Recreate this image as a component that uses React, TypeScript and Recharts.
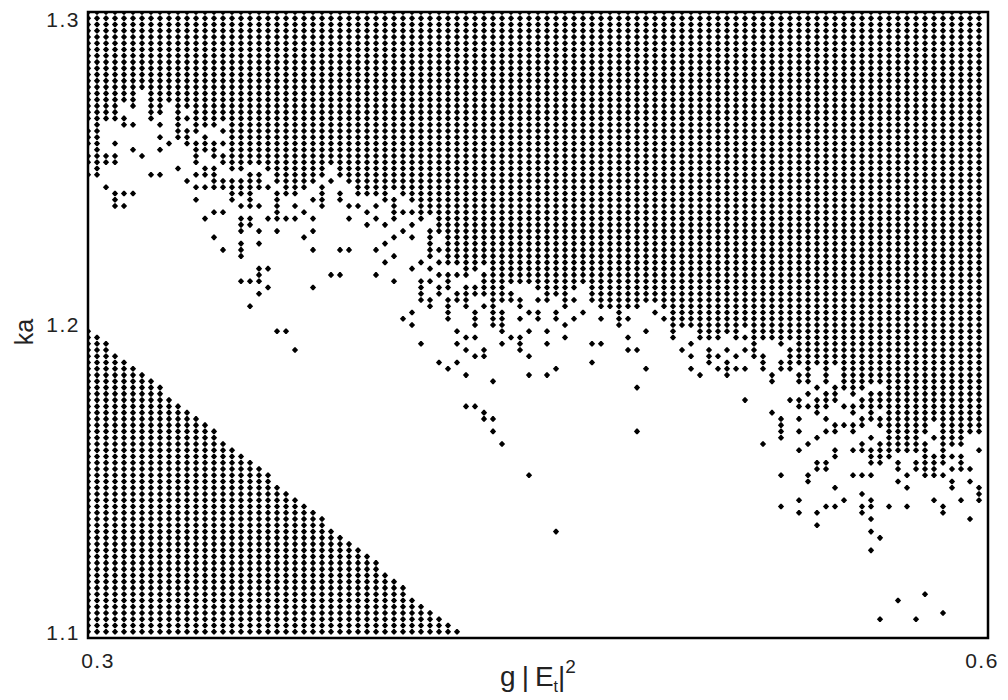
import { ScatterChart, Scatter, XAxis, YAxis, ReferenceArea, Label } from "recharts";

const X_TICKS = [0.3, 0.6];
const Y_TICKS = [1.1, 1.2, 1.3];

// the plotter's lattice: columns step 0.003 in g|E|^2, rows step 0.002 in ka
const gridX0 = 0.3;
const gridDX = 0.003;
const gridY0 = 1.1;
const gridDY = 0.002;
const topRow = 100;

// lowest row of the solid upper block, per column (0..99)
const frontRow = [
  83, 74, 83, 83, 86, 85, 88, 83, 84, 86,
  80, 85, 81, 82, 82, 83, 75, 75, 76, 76,
  75, 73, 71, 71, 72, 73, 74, 76, 74, 73,
  71, 71, 71, 70, 72, 71, 70, 68, 68, 65,
  60, 60, 59, 59, 60, 57, 54, 57, 57, 57,
  56, 54, 55, 53, 56, 57, 54, 53, 53, 50,
  53, 53, 54, 54, 53, 48, 50, 50, 48, 48,
  48, 49, 48, 50, 45, 48, 48, 47, 48, 44,
  41, 44, 41, 44, 40, 39, 40, 41, 41, 29,
  30, 30, 30, 33, 35, 29, 31, 31, 33, 33,
];

// top row of the lower-left wedge, per column (0..41)
const wedgeTop = [
  49, 48, 47, 45, 44, 43, 42, 41, 40, 38,
  37, 36, 35, 34, 33, 31, 30, 29, 28, 27,
  26, 24, 23, 22, 21, 20, 19, 17, 16, 15,
  14, 13, 12, 10, 9, 8, 6, 5, 4, 3,
  2, 1,
];

// isolated dots under the solid block: [column, rows]
const strayRows: [number, number[]][] = [
  [0, [81, 80, 79, 77, 76, 74]],
  [2, [77, 76, 72]],
  [3, [79, 77, 76, 71, 70, 69]],
  [4, [83, 82, 71, 69]],
  [5, [82, 78, 71]],
  [6, [77]],
  [7, [74]],
  [8, [82, 80, 78, 74]],
  [9, [79]],
  [10, [75]],
  [11, [83, 81, 80, 79, 73]],
  [12, [79, 78, 77, 76, 74, 72, 70]],
  [13, [80, 79, 78, 75, 74, 72, 67]],
  [14, [79, 78, 77, 75, 74, 73, 72, 68, 64]],
  [15, [81, 79, 77, 76, 73, 72, 68, 62]],
  [16, [73, 72, 71, 70]],
  [17, [73, 72, 71, 69, 67, 66, 65, 63, 62, 61, 57]],
  [18, [74, 73, 72, 71, 70, 69, 67, 66, 57, 53]],
  [19, [74, 73, 72, 69, 65, 63, 59, 58, 57, 55]],
  [20, [72, 67, 59, 56]],
  [21, [71, 70, 69, 68, 67, 65, 49]],
  [22, [67, 49]],
  [23, [69, 67, 46]],
  [24, [68, 64]],
  [25, [70, 67, 65, 62, 56]],
  [26, [72, 71, 70, 69]],
  [27, [73, 58]],
  [28, [71, 70, 62, 58]],
  [29, [69, 67, 62]],
  [30, [69]],
  [31, [68, 66]],
  [32, [69, 67, 62, 58]],
  [33, [66, 63, 60]],
  [34, [70, 69, 68, 67, 64, 61, 57]],
  [35, [68, 65, 51]],
  [36, [68, 66, 64, 59, 52, 50]],
  [37, [67, 60, 57, 56, 55, 54, 47]],
  [38, [65, 64, 63, 62, 61, 59, 57, 54, 53]],
  [39, [62, 60, 58, 56, 55, 44]],
  [40, [58, 57, 56, 54, 53, 52, 51, 43]],
  [41, [58, 55, 54, 49, 47, 44]],
  [42, [58, 56, 55, 54, 53, 48, 46, 42, 37]],
  [43, [56, 55, 52, 51, 50, 48, 45, 37]],
  [44, [58, 57, 56, 55, 53, 46, 45, 36, 35]],
  [45, [56, 55, 54, 53, 52, 51, 50, 41, 35, 33]],
  [46, [52, 51, 50, 49, 47, 31]],
  [47, [55, 54, 48]],
  [48, [54, 53, 51, 48, 47, 46]],
  [49, [52, 49, 45, 42, 26]],
  [50, [54, 52, 51]],
  [51, [49, 47, 42]],
  [52, [52, 51, 43, 17]],
  [53, [50, 48]],
  [54, [54, 51]],
  [55, [52]],
  [56, [47, 44]],
  [57, [51, 47]],
  [60, [51, 48, 46]],
  [61, [46, 40, 33]],
  [62, [49, 43]],
  [63, [52]],
  [64, [51]],
  [66, [46]],
  [67, [47, 45, 43]],
  [68, [42]],
  [69, [46, 45, 44]],
  [70, [45, 43]],
  [71, [46, 44, 43, 42]],
  [72, [45, 43]],
  [73, [48, 46, 43, 38]],
  [75, [45, 44, 43, 31]],
  [76, [42, 41, 36]],
  [77, [44, 43, 35, 34, 33, 32, 26, 21]],
  [78, [46, 45, 44, 43, 38]],
  [79, [42, 41, 38, 37, 35, 33, 30, 22, 20]],
  [80, [39, 37, 31, 26, 25]],
  [81, [40, 38, 37, 36, 32, 28, 27, 20, 18]],
  [82, [39, 38, 37, 35, 33, 28, 27, 21]],
  [83, [40, 39, 38, 34, 33, 30, 29, 24, 21]],
  [84, [37, 34, 22]],
  [85, [37, 36, 34, 33, 30, 26]],
  [86, [38, 37, 35, 34, 31, 30, 26, 23, 21, 20]],
  [87, [39, 38, 37, 36, 35, 32, 30, 29, 28, 26, 22, 21, 19, 17, 14]],
  [88, [39, 38, 37, 35, 34, 31, 30, 29, 28, 16, 3]],
  [89, [21]],
  [90, [28, 27, 25, 6]],
  [91, [26, 24, 21]],
  [92, [28, 27, 3]],
  [93, [31, 30, 29, 28, 27, 26, 7]],
  [94, [32, 29, 28, 27, 26, 22]],
  [95, [28, 26, 21, 20, 4]],
  [96, [29, 27, 25, 24]],
  [97, [29, 28, 27, 22]],
  [98, [27, 25, 19]],
  [99, [30, 24, 23, 22]],
];

const colX = (i: number) => +(gridX0 + gridDX * i).toFixed(3);
const rowY = (j: number) => +(gridY0 + gridDY * j).toFixed(3);

const upperPoints = frontRow.flatMap((front, i) => {
  const pts: { x: number; y: number }[] = [];
  for (let j = front; j <= topRow; j++) pts.push({ x: colX(i), y: rowY(j) });
  return pts;
});

const wedgePoints = wedgeTop.flatMap((top, i) => {
  const pts: { x: number; y: number }[] = [];
  for (let j = 1; j <= top; j++) pts.push({ x: colX(i), y: rowY(j) });
  return pts;
});

const strayPoints = strayRows.flatMap(([i, rows]) => rows.map((j) => ({ x: colX(i), y: rowY(j) })));

const FONT = "'Liberation Sans', Arial, sans-serif";

// plotter dot: a small fat diamond
const renderDot = (props: any) => {
  const { cx, cy } = props;
  if (cx == null || cy == null) return <g />;
  return (
    <path
      d={`M${cx - 3.1},${cy}L${cx - 0.6},${cy - 2.8}L${cx + 0.6},${cy - 2.8}L${cx + 3.1},${cy}L${cx + 0.6},${cy + 2.8}L${cx - 0.6},${cy + 2.8}Z`}
      fill="#000"
    />
  );
};

const XTick = (props: any) => {
  const { x, y, payload } = props;
  const shift = payload.value === 0.3 ? 10 : -6;
  return (
    <text x={x + shift} y={y + 22} textAnchor="middle" fontSize={21} letterSpacing={1.5} fill="#222" fontFamily={FONT}>
      {payload.value.toFixed(1)}
    </text>
  );
};

const YTick = (props: any) => {
  const { y, payload } = props;
  let dy = 7;
  if (payload.value === 1.3) dy = 10;
  if (payload.value === 1.1) dy = 2;
  return (
    <text x={72} y={y + dy} textAnchor="end" fontSize={21} letterSpacing={1.5} fill="#222" fontFamily={FONT}>
      {payload.value.toFixed(1)}
    </text>
  );
};

export default function App() {
  return (
    <div style={{ width: 1000, height: 692 }}>
      <ScatterChart width={1000} height={692} margin={{ top: 4, right: 20, bottom: 0, left: 0 }}>
        <XAxis
          type="number"
          dataKey="x"
          domain={[0.3, 0.6]}
          ticks={X_TICKS}
          allowDataOverflow
          height={62}
          tickLine={false}
          axisLine={false}
          tick={<XTick />}
        >
          <Label
            content={(p: any) => {
              const vb = p.viewBox || { x: 80, y: 630, width: 900 };
              return (
                <text x={vb.x + vb.width / 2} y={vb.y + 48} textAnchor="middle" fontSize={28} fill="#222" fontFamily={FONT}>
                  <tspan>g</tspan>
                  <tspan dx={6}>|</tspan>
                  <tspan dx={6}>E</tspan>
                  <tspan fontSize={16} dy={6}>t</tspan>
                  <tspan dy={-6}>|</tspan>
                  <tspan fontSize={19} dy={-13}>2</tspan>
                </text>
              );
            }}
          />
        </XAxis>
        <YAxis
          type="number"
          dataKey="y"
          domain={[1.1, 1.3]}
          ticks={Y_TICKS}
          allowDataOverflow
          width={80}
          tickLine={false}
          axisLine={false}
          tick={<YTick />}
        >
          <Label
            content={() => (
              <text
                x={16}
                y={324}
                transform="rotate(-90 16 324)"
                textAnchor="middle"
                dominantBaseline="central"
                fontSize={25}
                fill="#222"
                fontFamily={FONT}
              >
                ka
              </text>
            )}
          />
        </YAxis>
        <Scatter data={upperPoints} isAnimationActive={false} shape={renderDot} />
        <Scatter data={wedgePoints} isAnimationActive={false} shape={renderDot} />
        <Scatter data={strayPoints} isAnimationActive={false} shape={renderDot} />
        <ReferenceArea x1={0.3} x2={0.6} y1={1.1} y2={1.3} fill="none" stroke="#000" strokeWidth={2.5} ifOverflow="visible" />
      </ScatterChart>
    </div>
  );
}
